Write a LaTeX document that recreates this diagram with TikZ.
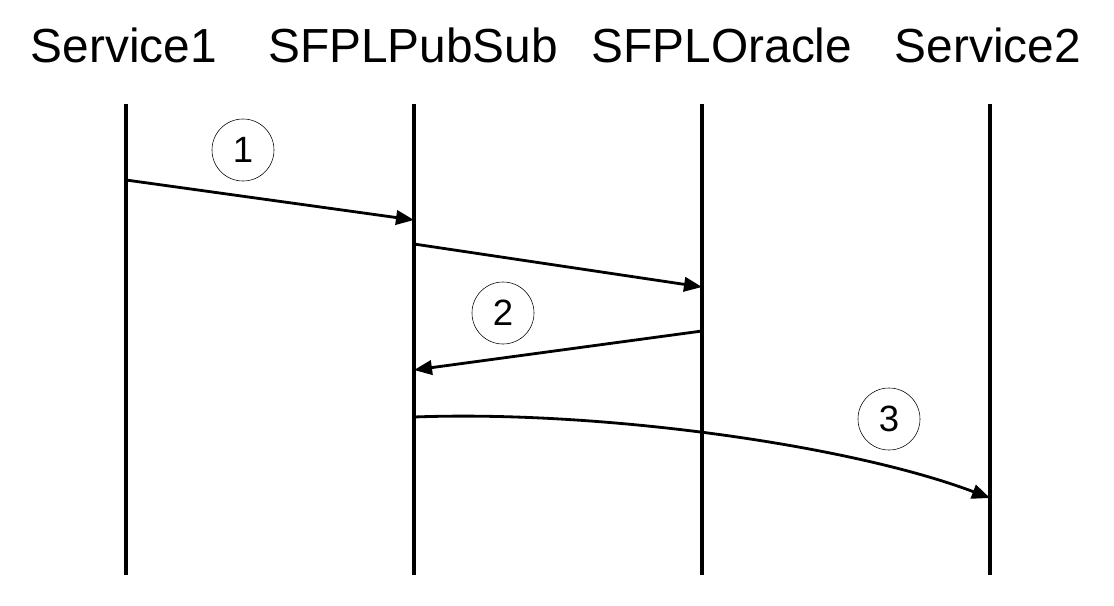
\documentclass[tikz,border=0pt]{standalone}
\usepackage{fontspec}
\setmainfont{Liberation Sans}
\usetikzlibrary{arrows.meta}

\tikzset{
  lifeline/.style={line width=2.2pt},
  msg/.style={line width=2pt, -{Triangle[length=0.45cm, width=0.36cm]}},
  stepnum/.style={draw, circle, thin, minimum size=1.55cm, inner sep=0pt, font=\fontsize{26}{26}\selectfont},
  head/.style={anchor=base, font=\fontsize{34}{34}\selectfont}
}

\begin{document}
\begin{tikzpicture}[x=0.025cm, y=-0.025cm]
\useasboundingbox (0,0) rectangle (1114,606);

% Tên các thành phần
\node[head] (svc1) at (124,62) {Service1};
\node[head] (pubsub) at (413,62) {SFPLPubSub};
\node[head] (oracle) at (722,62) {SFPLOracle};
\node[head] (svc2) at (988,62) {Service2};

% Đường đời (lifeline)
\coordinate (svc1top) at (126,104);   \coordinate (svc1bot) at (126,575);
\coordinate (pubtop) at (414,104);    \coordinate (pubbot) at (414,575);
\coordinate (oratop) at (702,104);    \coordinate (orabot) at (702,575);
\coordinate (svc2top) at (990,104);   \coordinate (svc2bot) at (990,575);
\draw[lifeline] (svc1top) -- (svc1bot);
\draw[lifeline] (pubtop) -- (pubbot);
\draw[lifeline] (oratop) -- (orabot);
\draw[lifeline] (svc2top) -- (svc2bot);

% Điểm đầu, điểm cuối của các thông điệp
\coordinate (m1a) at (126,180);  \coordinate (m1b) at (414,220);
\coordinate (m2a) at (414,244);  \coordinate (m2b) at (702,287);
\coordinate (m3a) at (702,331);  \coordinate (m3b) at (414,370);
\coordinate (m4a) at (414,417);  \coordinate (m4b) at (990,498);

% Vẽ các thông điệp
\draw[msg] (m1a) -- (m1b);
\draw[msg] (m2a) -- (m2b);
\draw[msg] (m3a) -- (m3b);
\draw[msg] (m4a) .. controls (600,410) and (850,445) .. (m4b);

% Số thứ tự các bước
\node[stepnum] (n1) at (243,150) {1};
\node[stepnum] (n2) at (503,313) {2};
\node[stepnum] (n3) at (889,419) {3};
\end{tikzpicture}
\end{document}
